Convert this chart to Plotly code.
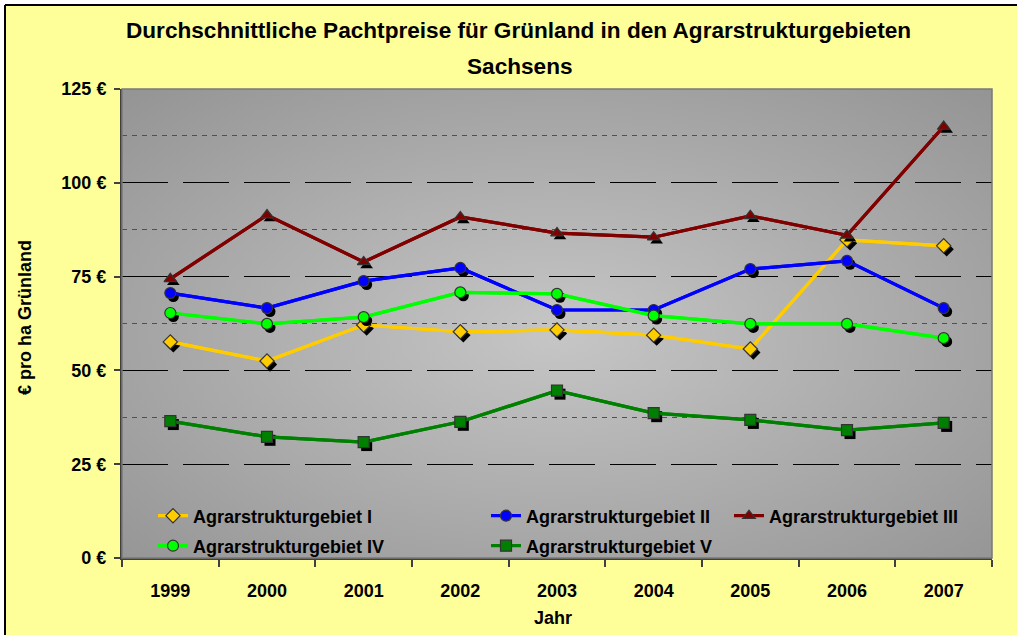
import base64
import plotly.graph_objects as go

# ---------------- data ----------------
years = ["1999", "2000", "2001", "2002", "2003", "2004", "2005", "2006", "2007"]
gebiet_I = [57.6, 52.5, 62.1, 60.3, 60.8, 59.4, 55.7, 84.8, 83.2]
gebiet_II = [70.6, 66.6, 73.8, 77.3, 66.1, 66.1, 77.0, 79.2, 66.6]
gebiet_III = [74.4, 91.4, 78.9, 90.9, 86.6, 85.5, 91.2, 86.0, 115.0]
gebiet_IV = [65.3, 62.4, 64.2, 70.8, 70.4, 64.6, 62.4, 62.4, 58.6]
gebiet_V = [36.5, 32.3, 30.9, 36.3, 44.6, 38.6, 36.8, 34.1, 36.0]
series_names = ["Agrarstrukturgebiet I", "Agrarstrukturgebiet II", "Agrarstrukturgebiet III",
                "Agrarstrukturgebiet IV", "Agrarstrukturgebiet V"]
y_ticks = [0, 25, 50, 75, 100, 125]
y_tick_labels = [f"{v} €" for v in y_ticks]
y_minor_grid = [37.5, 62.5, 87.5, 112.5]

# ---------------- layout geometry (pixels) ----------------
W, H = 1017, 635
L, R, T, B = 122, 25, 89, 77
PW, PH = W - L - R, H - T - B


def px(x):
    return (x - L) / PW


def py(y):
    return (H - B - y) / PH


FONT = "Liberation Sans, Arial, sans-serif"
colors = ["#FFCC00", "#0000FF", "#800000", "#00FF00", "#008000"]
symbols = ["diamond", "circle", "triangle-up", "circle", "square"]
legend_of = ["legend", "legend", "legend3", "legend2", "legend2"]
data = [gebiet_I, gebiet_II, gebiet_III, gebiet_IV, gebiet_V]

xs = list(range(len(years)))
SDX = 3 * (len(years)) / PW          # shadow offset in x (3 px)
SDY = 3.5 * 125 / PH                 # shadow offset in y (3.5 px)

fig = go.Figure()
for name, vals, c, s, lg in zip(series_names, data, colors, symbols, legend_of):
    fig.add_trace(go.Scatter(
        x=xs, y=vals, mode="lines", line=dict(color=c, width=3.2),
        showlegend=False, hoverinfo="skip"))
    fig.add_trace(go.Scatter(
        x=[v + SDX for v in xs], y=[v - SDY for v in vals], mode="markers",
        marker=dict(symbol=s, size=11, color="black", line=dict(width=0)),
        showlegend=False, hoverinfo="skip"))
    fig.add_trace(go.Scatter(
        x=xs, y=vals, name=name, mode="lines+markers",
        line=dict(color=c, width=3.2),
        marker=dict(symbol=s, size=11, color=c, line=dict(color="#333333", width=1.2)),
        legend=lg))

# gradient background for plot area
svg = (
    '<svg xmlns="http://www.w3.org/2000/svg" width="870" height="469" '
    'preserveAspectRatio="none" viewBox="0 0 870 469">'
    '<defs><radialGradient id="g" cx="0.5" cy="0.52" r="0.72">'
    '<stop offset="0" stop-color="#C6C6C6"/>'
    '<stop offset="1" stop-color="#949494"/>'
    '</radialGradient></defs>'
    '<rect x="0" y="0" width="870" height="469" fill="url(#g)"/></svg>'
)
src = "data:image/svg+xml;base64," + base64.b64encode(svg.encode()).decode()

legend_common = dict(orientation="h", xanchor="left", yanchor="middle",
                     bgcolor="rgba(0,0,0,0)",
                     font=dict(family=FONT, size=18, color="black", weight="bold"),
                     itemclick=False, itemdoubleclick=False)

fig.update_layout(
    width=W, height=H,
    margin=dict(l=L, r=R, t=T, b=B, autoexpand=False),
    paper_bgcolor="#FFFF99",
    plot_bgcolor="rgba(0,0,0,0)",
    font=dict(family=FONT, color="black", size=18),
    showlegend=True,
    images=[dict(source=src, xref="paper", yref="paper", x=0, y=1, sizex=1, sizey=1,
                 xanchor="left", yanchor="top", sizing="stretch", layer="below")],
    xaxis=dict(
        range=[-0.5, len(years) - 0.5], tickmode="array", tickvals=xs, ticktext=years,
        ticks="", showgrid=False, zeroline=False, ticklabelstandoff=15,
        tickfont=dict(family=FONT, size=18, color="black", weight="bold"),
        showline=True, linecolor="#404040", linewidth=2,
        minor=dict(tickmode="linear", tick0=0.5, dtick=1, ticks="outside", ticklen=7,
                   tickcolor="#404040", tickwidth=1.5, showgrid=False),
        fixedrange=True,
    ),
    yaxis=dict(
        range=[0, 125], tickmode="array", tickvals=y_ticks, ticktext=y_tick_labels,
        ticks="outside", ticklen=6, tickcolor="#404040", tickwidth=1.5,
        ticklabelstandoff=4,
        tickfont=dict(family=FONT, size=18, color="black", weight="bold"),
        showgrid=True, gridcolor="black", gridwidth=1.2, griddash="46px,15px",
        zeroline=False, showline=True, linecolor="#404040", linewidth=2,
        minor=dict(tickmode="array", tickvals=y_minor_grid, showgrid=True, gridcolor="#505050",
                   gridwidth=1, griddash="5px,5px", ticks=""),
        fixedrange=True,
    ),
    legend=dict(x=px(153), y=py(516), entrywidth=288, entrywidthmode="pixels", **legend_common),
    legend3=dict(x=px(153 + 2 * 288), y=py(516), **legend_common),
    legend2=dict(x=px(153), y=py(546), entrywidth=288, entrywidthmode="pixels", **legend_common),
    annotations=[
        dict(text="<b>Durchschnittliche Pachtpreise für Grünland in den Agrarstrukturgebieten</b>",
             x=px(518), y=py(30), xref="paper", yref="paper", showarrow=False,
             xanchor="center", yanchor="middle", font=dict(family=FONT, size=22.6)),
        dict(text="<b>Sachsens</b>", x=px(520), y=py(67), xref="paper", yref="paper",
             showarrow=False, xanchor="center", yanchor="middle",
             font=dict(family=FONT, size=22.6)),
        dict(text="<b>Jahr</b>", x=px(553), y=py(618), xref="paper", yref="paper",
             showarrow=False, xanchor="center", yanchor="middle",
             font=dict(family=FONT, size=18)),
        dict(text="<b>€ pro ha Grünland</b>", x=px(25), y=py(318), xref="paper", yref="paper",
             showarrow=False, xanchor="center", yanchor="middle", textangle=-90,
             font=dict(family=FONT, size=18)),
    ],
    shapes=[
        # plot area frame (top/right)
        dict(type="rect", xref="paper", yref="paper", x0=0, y0=0, x1=1, y1=1,
             line=dict(color="#7a7a7a", width=1.5), layer="above"),
        # outer white strip + chart border
        dict(type="rect", xref="paper", yref="paper", x0=px(-5), x1=px(W + 5), y0=py(5), y1=py(-5),
             fillcolor="white", line=dict(width=0), layer="below"),
        dict(type="rect", xref="paper", yref="paper", x0=px(-5), x1=px(5), y0=py(H + 5), y1=py(-5),
             fillcolor="white", line=dict(width=0), layer="below"),
        dict(type="line", xref="paper", yref="paper", x0=px(5), x1=px(W + 5), y0=py(5), y1=py(5),
             line=dict(color="black", width=2)),
        dict(type="line", xref="paper", yref="paper", x0=px(5), x1=px(5), y0=py(5), y1=py(H + 5),
             line=dict(color="black", width=2)),
    ],
)

fig.write_html("out.html", config={"displayModeBar": False},
               post_script="document.body.style.margin='0';document.body.style.overflow='hidden';")
